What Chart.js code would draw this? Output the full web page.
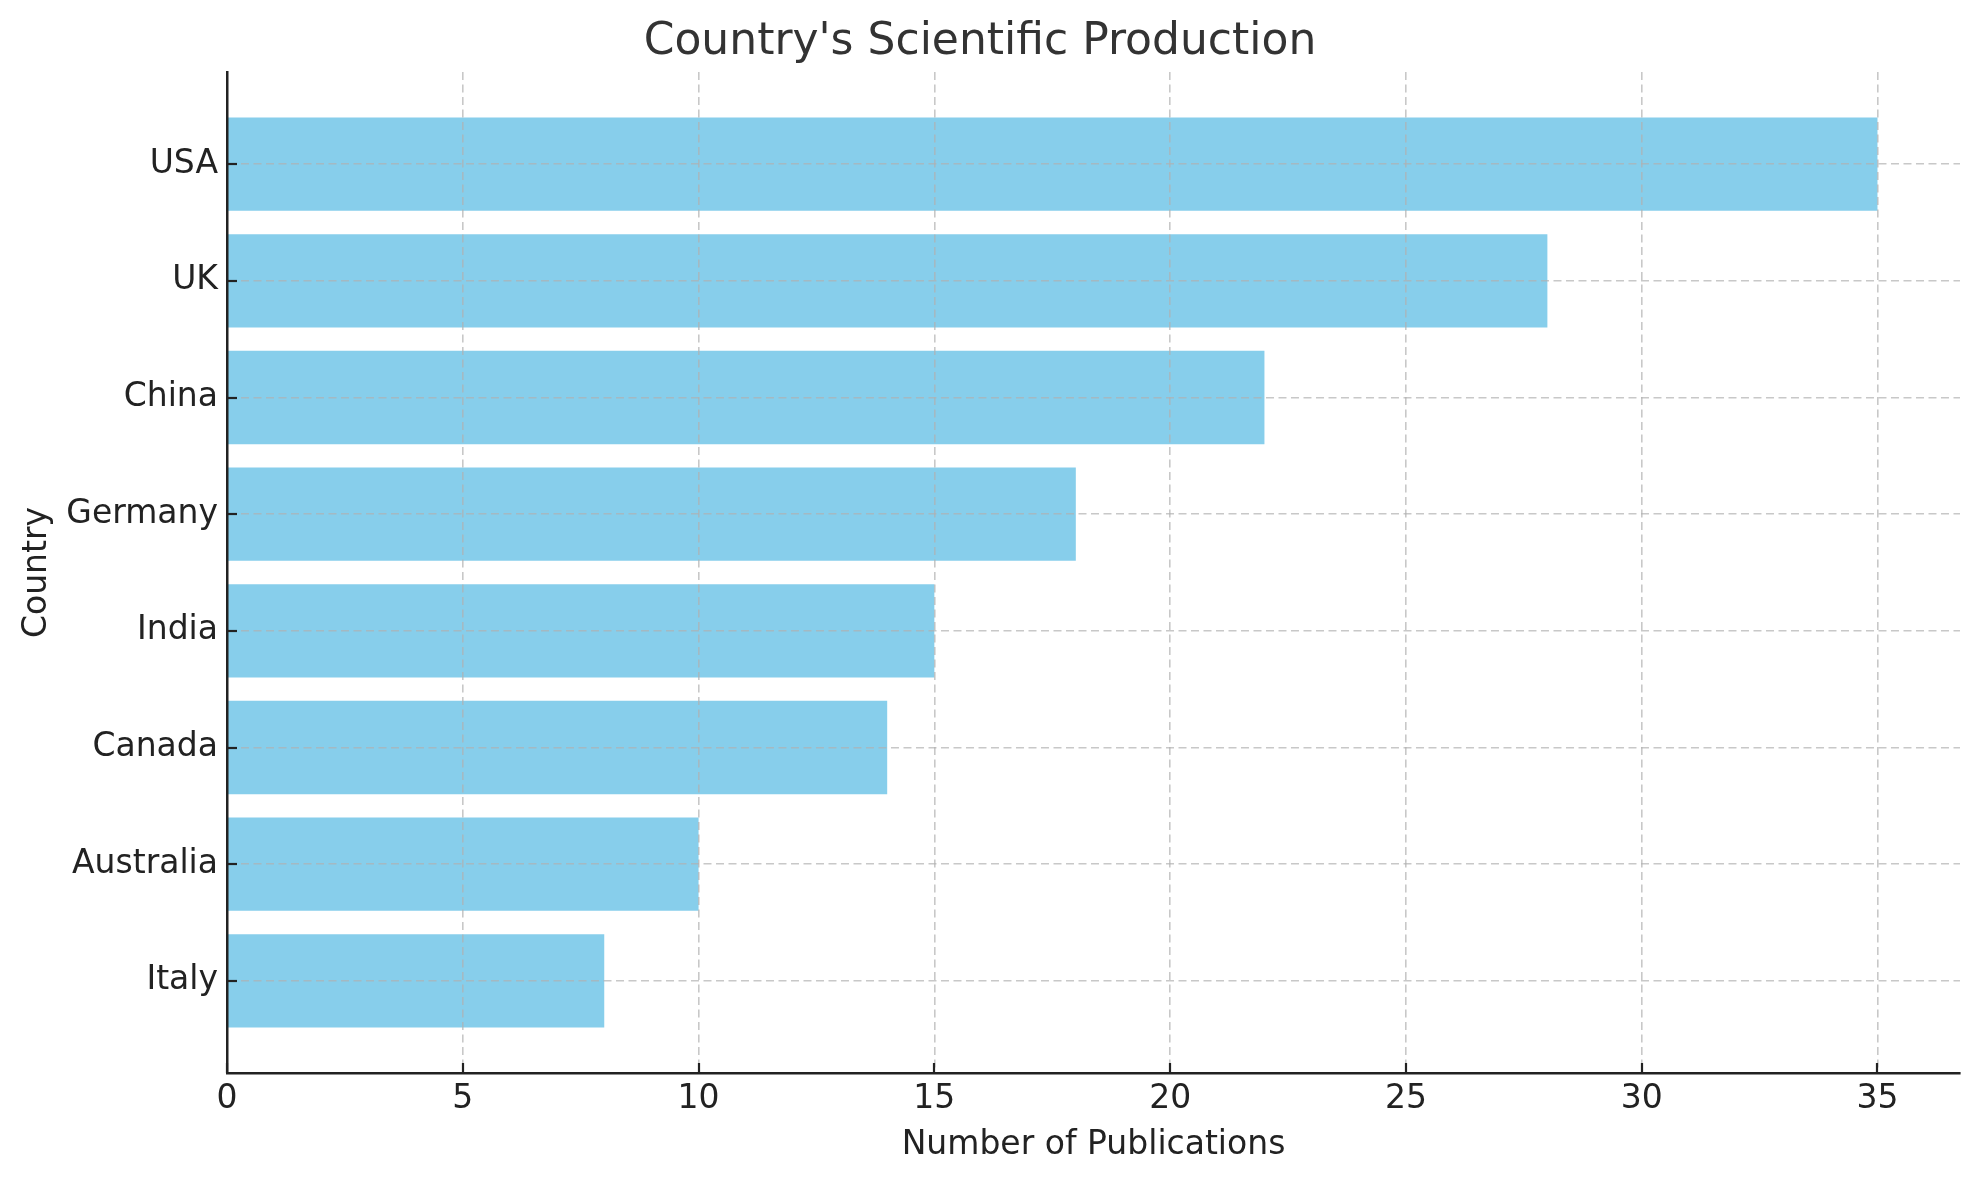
<!DOCTYPE html>
<html>
<head>
<meta charset="utf-8">
<script src="https://cdn.jsdelivr.net/npm/chart.js@4.4.1/dist/chart.umd.min.js"></script>
<style>
  html, body { margin: 0; padding: 0; background: #ffffff; }
  canvas { display: block; }
</style>
</head>
<body>
<canvas id="c" width="1979" height="1180"></canvas>
<script>
const countries = ["USA", "UK", "China", "Germany", "India", "Canada", "Australia", "Italy"];
const publications = [35, 28, 22, 18, 15, 14, 10, 8];
const xTickValues = [0, 5, 10, 15, 20, 25, 30, 35];
const titleText = "Country's Scientific Production";
const xTitle = "Number of Publications";
const yTitle = "Country";

const FONT = "'DejaVu Sans', 'Liberation Sans', sans-serif";
const AXIS_COLOR = '#222222';
const GRID_COLOR = 'rgba(176,176,176,0.7)';

const innerTicks = {
  id: 'innerTicks',
  afterDraw(chart) {
    const ctx = chart.ctx;
    const xs = chart.scales.x, ys = chart.scales.y;
    const area = chart.chartArea;
    ctx.save();
    ctx.strokeStyle = AXIS_COLOR;
    ctx.lineWidth = 2.2;
    xs.ticks.forEach(t => {
      const px = Math.round(xs.getPixelForValue(t.value));
      ctx.beginPath();
      ctx.moveTo(px, area.bottom);
      ctx.lineTo(px, area.bottom - 10);
      ctx.stroke();
    });
    ys.ticks.forEach(t => {
      const py = Math.round(ys.getPixelForValue(t.value));
      ctx.beginPath();
      ctx.moveTo(area.left, py);
      ctx.lineTo(area.left + 10, py);
      ctx.stroke();
    });
    ctx.restore();
  }
};

new Chart(document.getElementById('c'), {
  type: 'bar',
  data: {
    datasets: [{
      data: countries.map((c, i) => ({ x: publications[i], y: i })),
      backgroundColor: '#87CEEB',
      borderWidth: 0,
      barPercentage: 0.8,
      categoryPercentage: 1.0
    }]
  },
  options: {
    indexAxis: 'y',
    responsive: false,
    devicePixelRatio: 1,
    animation: false,
    layout: { padding: { left: 0, right: 19, top: 0, bottom: 0 } },
    plugins: {
      legend: { display: false },
      tooltip: { enabled: false },
      title: {
        display: true,
        text: titleText,
        color: '#333333',
        font: { family: FONT, size: 44, weight: 'normal', lineHeight: 1.2 },
        padding: { top: 16, bottom: 3.2 }
      }
    },
    scales: {
      x: {
        type: 'linear',
        min: 0,
        max: 36.75,
        offset: false,
        afterBuildTicks: (s) => { s.ticks = xTickValues.map(v => ({ value: v })); },
        afterFit: (s) => { s.height = 107; },
        ticks: {
          color: AXIS_COLOR,
          font: { family: FONT, size: 33, lineHeight: 1.2 },
          padding: 7,
          maxRotation: 0,
          autoSkip: false,
          z: 1
        },
        grid: {
          color: GRID_COLOR,
          lineWidth: 1.6,
          drawTicks: false,
          tickLength: 0,
          offset: false,
          z: 1
        },
        border: { display: true, color: AXIS_COLOR, width: 2.5, dash: [8, 4.5], z: 2 },
        title: {
          display: true,
          text: xTitle,
          color: AXIS_COLOR,
          font: { family: FONT, size: 33, lineHeight: 1.2 },
          padding: { top: 0, bottom: 15 }
        }
      },
      y: {
        type: 'linear',
        min: -0.79,
        max: 7.79,
        reverse: true,
        offset: false,
        afterBuildTicks: (s) => { s.ticks = countries.map((c, i) => ({ value: i })); },
        afterFit: (s) => { s.width = 227; },
        ticks: {
          color: AXIS_COLOR,
          font: { family: FONT, size: 33, lineHeight: 1.2 },
          padding: 9,
          autoSkip: false,
          callback: (v) => countries[v],
          z: 1
        },
        grid: {
          color: GRID_COLOR,
          lineWidth: 1.6,
          drawTicks: false,
          tickLength: 0,
          offset: false,
          z: 1
        },
        border: { display: true, color: AXIS_COLOR, width: 2.5, dash: [8, 4.5], z: 2 },
        title: {
          display: true,
          text: yTitle,
          color: AXIS_COLOR,
          font: { family: FONT, size: 33, lineHeight: 1.2 },
          padding: { top: 18, bottom: 0 }
        }
      }
    }
  },
  plugins: [innerTicks]
});
</script>
</body>
</html>
